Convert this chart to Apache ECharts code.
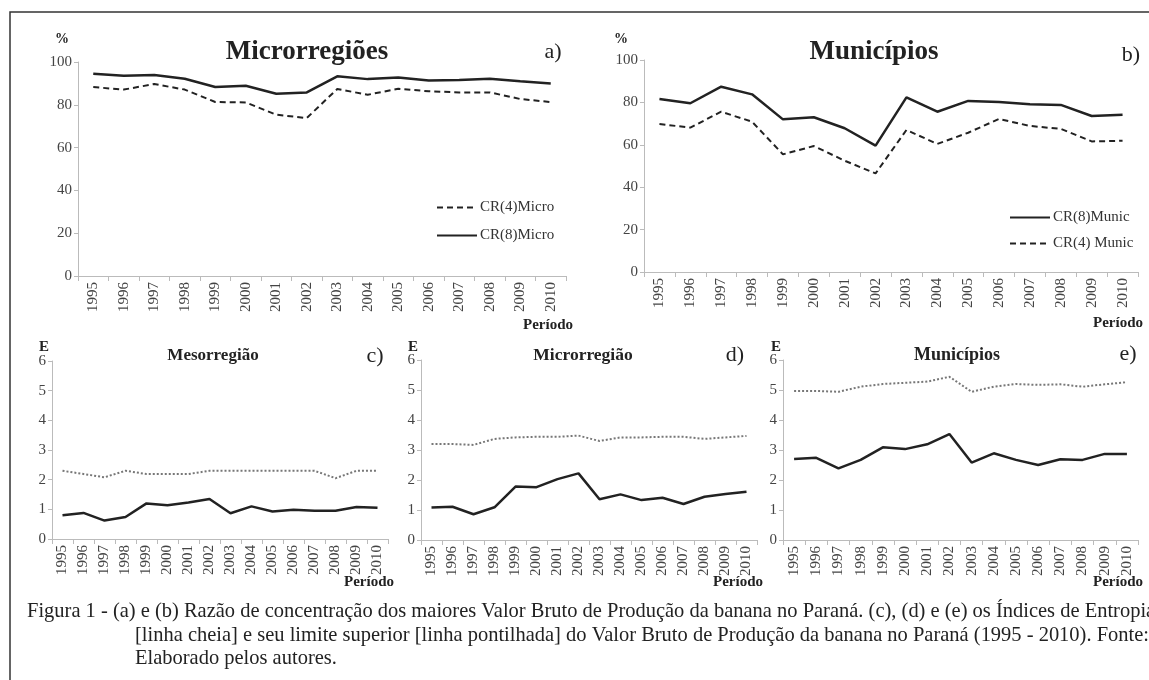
<!DOCTYPE html>
<html><head><meta charset="utf-8">
<script src="https://cdn.jsdelivr.net/npm/echarts@6/dist/echarts.min.js"></script>
<style>html,body{margin:0;padding:0;background:#fff}#c{width:1149px;height:680px}</style>
</head><body><div id="c"></div>
<script>
const years = ['1995','1996','1997','1998','1999','2000','2001','2002','2003','2004','2005','2006','2007','2008','2009','2010'];
const cr4Micro = [88.3,87.1,89.7,87.1,81.3,81.1,75.4,73.8,87.4,84.7,87.5,86.3,85.8,85.8,82.7,81.3];
const cr8Micro = [94.5,93.6,93.9,92.2,88.3,88.9,85.2,85.8,93.3,92.0,92.8,91.3,91.6,92.2,91.0,90.0];
const cr8Munic = [81.6,79.6,87.4,83.8,72.0,73.0,67.8,59.6,82.4,75.6,80.7,80.2,79.1,78.8,73.6,74.2];
const cr4Munic = [69.8,68.1,75.6,70.9,55.5,59.4,52.5,46.5,67.0,60.4,65.7,72.2,68.9,67.5,61.6,61.9];
const entMeso  = [0.80,0.88,0.62,0.74,1.20,1.14,1.23,1.35,0.87,1.10,0.93,0.99,0.95,0.95,1.08,1.05];
const limMeso  = [2.30,2.19,2.08,2.30,2.19,2.19,2.19,2.30,2.30,2.30,2.30,2.30,2.30,2.05,2.30,2.30];
const entMicro = [1.08,1.11,0.86,1.09,1.78,1.76,2.03,2.22,1.36,1.52,1.33,1.41,1.20,1.44,1.53,1.61];
const limMicro = [3.20,3.20,3.17,3.37,3.42,3.44,3.44,3.48,3.30,3.42,3.42,3.44,3.44,3.37,3.42,3.47];
const entMunic = [2.70,2.74,2.39,2.67,3.09,3.03,3.19,3.53,2.58,2.89,2.67,2.50,2.69,2.67,2.87,2.87];
const limMunic = [4.97,4.97,4.94,5.11,5.20,5.24,5.28,5.44,4.94,5.11,5.20,5.17,5.19,5.11,5.19,5.26];
const pctTicks = {min:0, max:100, interval:20};
const eTicks = {min:0, max:6, interval:1};
const caption = [
 'Figura 1 - (a) e (b) Razão de concentração dos maiores Valor Bruto de Produção da banana no Paraná. (c), (d) e (e) os Índices de Entropia',
 '[linha cheia] e seu limite superior [linha pontilhada] do Valor Bruto de Produção da banana no Paraná (1995 - 2010). Fonte:',
 'Elaborado pelos autores.'
];

const SERIF = '"Liberation Serif","Times New Roman",serif';
const grids = [
  {left:78, top:62, width:488, height:214},
  {left:644, top:60, width:494, height:212},
  {left:52, top:361, width:336, height:178},
  {left:421, top:360, width:336, height:180},
  {left:783, top:360, width:355, height:180}
];
const axisCol = '#bbbbbb';
function xAx(i, fs){
  return {type:'category', gridIndex:i, data:years, boundaryGap:true,
    axisLine:{lineStyle:{color:axisCol, width:1}},
    axisTick:{show:true, length:5, lineStyle:{color:axisCol}},
    axisLabel:{rotate:90, interval:0, margin:6, fontFamily:SERIF, fontSize:fs, color:'#444'}};
}
function yAx(i, t, fs){
  return {type:'value', gridIndex:i, min:t.min, max:t.max, interval:t.interval,
    splitLine:{show:false},
    axisLine:{show:true, lineStyle:{color:axisCol, width:1}},
    axisTick:{show:true, length:4, lineStyle:{color:axisCol}},
    axisLabel:{margin:6, fontFamily:SERIF, fontSize:fs, color:'#444'}};
}
function ln(name, i, data, type, color, width){
  return {name, type:'line', xAxisIndex:i, yAxisIndex:i, data, symbol:'none', showSymbol:false,
    legendIcon:'none',
    lineStyle:{color, width, type}, itemStyle:{color}, animation:false, z:3};
}
function txt(x, y, text, font, align){
  return {type:'text', x, y, style:{text, font, fill:'#222', align:align||'center', verticalAlign:'middle'}};
}

// caption scale to match condensed look
const mc = document.createElement('canvas').getContext('2d');
mc.font = '21px "Liberation Serif"';
const w2 = mc.measureText(caption[1]).width;
const sx = 1014 / w2;

const graphics = [
  {type:'rect', shape:{x:10, y:12, width:1160, height:700}, style:{fill:'none', stroke:'#333', lineWidth:1.5}, silent:true},
  txt(307, 52, 'Microrregiões', 'bold 27px '+SERIF),
  txt(553, 52, 'a)', '22px '+SERIF),
  txt(62, 39, '%', 'bold 14px '+SERIF),
  txt(548, 325, 'Período', 'bold 15px '+SERIF),
  txt(874, 52, 'Municípios', 'bold 27px '+SERIF),
  txt(1131, 55, 'b)', '22px '+SERIF),
  txt(621, 39, '%', 'bold 14px '+SERIF),
  txt(1118, 323, 'Período', 'bold 15px '+SERIF),
  txt(213, 356, 'Mesorregião', 'bold 17px '+SERIF),
  txt(375, 356, 'c)', '22px '+SERIF),
  txt(44, 347, 'E', 'bold 15px '+SERIF),
  txt(369, 582, 'Período', 'bold 15px '+SERIF),
  txt(583, 355, 'Microrregião', 'bold 17.5px '+SERIF),
  txt(735, 355, 'd)', '22px '+SERIF),
  txt(413, 347, 'E', 'bold 15px '+SERIF),
  txt(738, 582, 'Período', 'bold 15px '+SERIF),
  txt(957, 355, 'Municípios', 'bold 18px '+SERIF),
  txt(1128, 354, 'e)', '22px '+SERIF),
  txt(776, 347, 'E', 'bold 15px '+SERIF),
  txt(1118, 582, 'Período', 'bold 15px '+SERIF)
];
const capPos = [[27,611],[135,635],[135,658]];
caption.forEach((t,k)=>{
  graphics.push({type:'text', x:capPos[k][0], y:capPos[k][1], scaleX:sx, scaleY:1,
    style:{text:t, font:'21px "Liberation Serif"', fill:'#222', align:'left', verticalAlign:'middle'}});
});

const legendBase = {orient:'vertical', itemWidth:40, itemHeight:14,
  itemStyle:{opacity:0}, lineStyle:{inactiveColor:'#222'},
  textStyle:{fontFamily:SERIF, fontSize:15, color:'#333', padding:[0,0,0,-2]}};
const option = {
  animation:false,
  backgroundColor:'#fff',
  grid: grids.map(g=>Object.assign({containLabel:false}, g)),
  xAxis:[xAx(0,15), xAx(1,15), xAx(2,15), xAx(3,15), xAx(4,15)],
  yAxis:[yAx(0,pctTicks,15), yAx(1,pctTicks,15), yAx(2,eTicks,15), yAx(3,eTicks,15), yAx(4,eTicks,15)],
  legend:[
    Object.assign({left:431, top:195, itemGap:13, data:['CR(4)Micro','CR(8)Micro']}, legendBase),
    Object.assign({left:1004, top:205, itemGap:11, data:['CR(8)Munic','CR(4) Munic']}, legendBase)
  ],
  series:[
    ln('CR(4)Micro',0,cr4Micro,[6,4],'#222',2),
    ln('CR(8)Micro',0,cr8Micro,'solid','#222',2.5),
    ln('CR(8)Munic',1,cr8Munic,'solid','#222',2.5),
    ln('CR(4) Munic',1,cr4Munic,[6,4],'#222',2),
    ln('limMeso',2,limMeso,[2,2],'#777',2),
    ln('entMeso',2,entMeso,'solid','#222',2.5),
    ln('limMicro',3,limMicro,[2,2],'#777',2),
    ln('entMicro',3,entMicro,'solid','#222',2.5),
    ln('limMunic',4,limMunic,[2,2],'#777',2),
    ln('entMunic',4,entMunic,'solid','#222',2.5)
  ],
  graphic: graphics
};
const chart = echarts.init(document.getElementById('c'), null, {renderer:'canvas'});
chart.setOption(option);
</script></body></html>
